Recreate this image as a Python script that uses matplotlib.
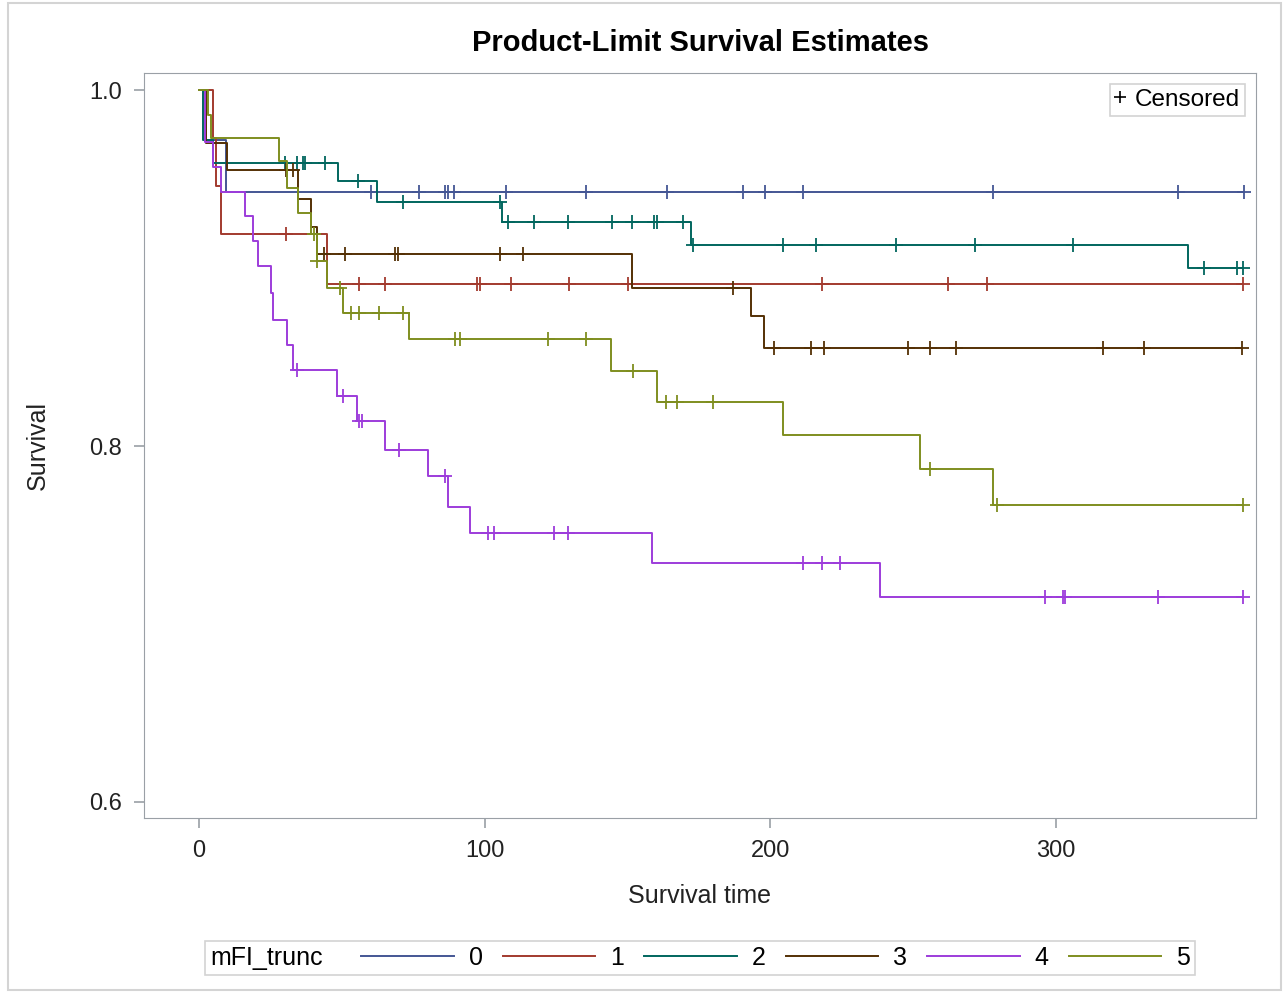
import numpy as np
import matplotlib
matplotlib.use('Agg')
import matplotlib.pyplot as plt
from matplotlib.lines import Line2D
from matplotlib.patches import Rectangle
from matplotlib.offsetbox import HPacker

plt.rcParams['font.family'] = ['Liberation Sans', 'DejaVu Sans']

groups = ['0', '1', '2', '3', '4', '5']
colors = ['#445694', '#A23A2E', '#01665E', '#543005', '#9D3CDB', '#7F8E1F']

# event times (step down at these times) and survival after each step
t0 = [0, 2.5, 9.5]
s0 = [1.0, 0.972, 0.943]
c0 = [60.2, 77.1, 86.2, 87.2, 89.3, 107.5, 135.6, 163.9, 190.5, 198.2, 211.5, 278.1, 342.9, 366]

t1 = [0, 5, 6, 7.5, 44.7]
s1 = [1.0, 0.973, 0.946, 0.919, 0.891]
c1 = [30.5, 56.0, 65.1, 97.3, 98.4, 109.2, 129.4, 150.2, 218.3, 262.2, 276.1, 365.7]

t2 = [0, 1.5, 5, 48.7, 62.3, 106, 172.3, 346.4]
s2 = [1.0, 0.972, 0.959, 0.949, 0.937, 0.926, 0.913, 0.900]
c2 = [30.1, 34.2, 36.5, 37.1, 44.1, 55.8, 71.3, 105.4, 108.3, 117.3, 129.2, 144.6, 151.6,
      159.4, 160.3, 169.6, 172.9, 204.4, 216.2, 244.2, 271.9, 306.1, 352.1, 363.4, 365.6]

t3 = [0, 2.5, 9.7, 34.8, 39.2, 41.2, 151.6, 193.2, 198]
s3 = [1.0, 0.970, 0.955, 0.939, 0.923, 0.908, 0.889, 0.873, 0.855]
c3 = [30.5, 33, 43.6, 51.1, 68.7, 69.8, 105.4, 113.3, 186.9, 201.5, 214.2, 218.9, 248.3,
      255.9, 265, 316.5, 331.1, 365.4]

t4 = [0, 2, 5, 7.5, 16.1, 18.8, 20.8, 25.2, 26, 30.9, 33, 48.4, 55.2, 65, 80.3, 87.3, 94.9,
      158.5, 238.5]
s4 = [1.0, 0.971, 0.957, 0.943, 0.929, 0.915, 0.901, 0.886, 0.871, 0.857, 0.843, 0.828,
      0.814, 0.798, 0.783, 0.766, 0.751, 0.734, 0.715]
c4 = [34.2, 50.5, 56, 57.2, 70, 86.2, 101.3, 103.4, 124.3, 129.1, 211.4, 218.3, 224.5,
      296.3, 302.7, 303.3, 336, 365.6]

t5 = [0, 3, 4, 28.1, 30.7, 34.8, 39.2, 41.2, 44.7, 50.5, 73.4, 144.3, 160.5, 204.4, 252.5, 278.2]
s5 = [1.0, 0.986, 0.973, 0.960, 0.945, 0.931, 0.919, 0.904, 0.889, 0.875, 0.860, 0.842,
      0.825, 0.806, 0.787, 0.767]
c5 = [40.1, 41.2, 49.2, 53.2, 56, 63, 71.3, 89.7, 91.4, 122.2, 135.4, 152.1, 163.5, 167.4,
      180.1, 256, 279.6, 365.6]

times = [t0, t1, t2, t3, t4, t5]
survs = [s0, s1, s2, s3, s4, s5]
cens = [c0, c1, c2, c3, c4, c5]

fig = plt.figure(figsize=(12.87, 9.94), dpi=100)
ax = fig.add_axes([144 / 1287, 1 - 818 / 994, (1256 - 144) / 1287, (818 - 73) / 994])

handles = []
for g, col, t, s, c in zip(groups, colors, times, survs, cens):
    t = np.array(t, dtype=float)
    s = np.array(s, dtype=float)
    c = np.array(c, dtype=float)
    tend = max(t[-1], c.max())
    ax.step(np.append(t, tend), np.append(s, s[-1]), where='post', color=col, lw=1.4)
    idx = np.searchsorted(t, c, side='right') - 1
    ax.plot(c, s[idx], ls='none', marker='+', ms=10, mew=1.3, color=col)
    handles.append(Line2D([], [], color=col, lw=1.4))

ax.set_xlim(-19.3, 370.2)
ax.set_ylim(0.591, 1.0096)
ax.set_xticks([0, 100, 200, 300])
ax.set_yticks([0.6, 0.8, 1.0])
ax.set_yticklabels(['0.6', '0.8', '1.0'])
for sp in ax.spines.values():
    sp.set_color('#9aa0a6')
ax.tick_params(colors='#9aa0a6', labelcolor='#222222', labelsize=17, length=7, width=1.2, pad=9)
ax.set_xlabel('Survival time', fontsize=18, color='#222222', labelpad=16)
ax.set_ylabel('Survival', fontsize=18, color='#222222', labelpad=28)
fig.text(0.544, 1 - 43 / 994, 'Product-Limit Survival Estimates', ha='center', va='center',
         fontsize=21, fontweight='bold')

cleg = ax.legend([Line2D([], [], ls='none', marker='+', ms=9, mew=1.2, color='black')], ['Censored'],
                 loc='upper right', fontsize=17.5, frameon=True, fancybox=False, handlelength=0.5,
                 handletextpad=0.35, borderaxespad=0.45, edgecolor='#c8c8c8', borderpad=0.2)
cleg.get_frame().set_linewidth(1.2)

leg = fig.legend(handles, groups, ncol=6, title='mFI_trunc', loc='center',
                 bbox_to_anchor=(700 / 1287, 1 - 958 / 994), fontsize=18, title_fontsize=18,
                 frameon=True, fancybox=False, edgecolor='#c8c8c8', handlelength=3.7,
                 handletextpad=0.6, columnspacing=0.8, borderpad=0.2)
leg.get_frame().set_linewidth(1.2)
# put the legend title to the left of the entries, SAS style
box = leg.get_children()[0]
title_box = box.get_children()[0]
cols = box.get_children()[1]
row = HPacker(children=[title_box, cols], align='center', pad=0, sep=28)
box._children = [row]

fig.patches.append(Rectangle((8 / 1287, 1 - 990 / 994), 1273 / 1287, 987 / 994,
                             transform=fig.transFigure, fill=False, edgecolor='#d4d4d4', lw=1.5))

fig.savefig('out.png', dpi=100)
